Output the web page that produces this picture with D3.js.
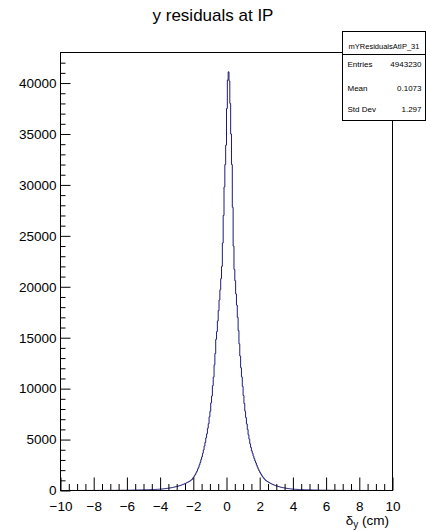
<!DOCTYPE html>
<html>
<head>
<meta charset="utf-8">
<script src="https://cdn.jsdelivr.net/npm/d3@7"></script>
<style>
  html, body { margin: 0; padding: 0; background: #fff; }
  svg { display: block; font-family: "Liberation Sans", Arial, Helvetica, sans-serif; }
</style>
</head>
<body>
<svg id="chart" width="426" height="531"></svg>
<script>
// ---------------- data ----------------
const chartTitle = "y residuals at IP";
const xDomain = [-10, 10];
const yDomain = [0, 43000];
// bin contents, 400 bins of equal width (0.05) across xDomain
const countsLeftTail = [ // -10.0 .. -4.1
  1,1, 1,1, 1,2, 2,1, 1,2, 2,2, 2,2, 2,3, 3,3,
  2,3, 3,3, 3,3, 3,4, 4,4, 4,4, 4,5, 5,4, 4,5, 5,6,
  6,6, 6,7, 7,7, 7,8, 8,8, 9,9, 9,10, 10,10, 11,11, 12,12,
  13,13, 14,14, 15,15, 16,17, 17,18, 19,20, 20,21, 22,23, 24,25, 26,27,
  27,28, 29,30, 31,33, 34,36, 37,39, 40,42, 44,46, 48,50, 52,54, 56,58,
  59,62, 64,67, 69,72, 75,78, 81,84, 87,90, 93,97, 100,104, 107,111, 115,119
];
const countsLeftCore = [ // -4.1 .. 0.0
  122,128, 134,141, 149,157, 166,176, 186,196, 207,219, 231,245, 259,273, 288,305, 321,341,
  358,380, 400,424, 446,472, 497,527, 555,588, 618,656, 690,731, 769,816, 858,909, 955,1030,
  1080,1200, 1300,1440, 1570,1740, 1890,2100, 2280,2530, 2750,3040, 3300,3650, 3980,4370, 4720,5170, 5570,6110,
  6560,7230, 7770,8600, 9280,10290, 11130,12340, 13450,14840, 15600,16640, 17660,18700, 19700,20800, 22000,24300, 27000,29800,
  32000,33900
];
const countsRightCore = [ // 0.0 .. 4.1
  37500,40300, 41100,40200, 38000,35000, 32000,27800, 24000,21700, 20600,19300,
  18200,17000, 15700,14400, 13200,12050, 11150,10220, 9330,8540, 7790,7160, 6530,6000, 5470,5040, 4580,4230, 3900,3660, 3380,3140, 2910,2710,
  2490,2290, 2090,1930, 1770,1630, 1490,1370, 1250,1160, 1060,990, 930,880, 825,775, 728,686, 643,607,
  568,536, 502,474, 444,418, 392,370, 347,327, 306,290, 271,257, 240,228, 213,201, 188,178,
  166,158, 147,139, 130,124
];
const countsRightTail = [ // 4.1 .. 10.0
  119,115, 110,106, 102,98, 94,90, 87,83, 81,77, 75,71, 69,65, 64,60, 59,55,
  54,52, 50,48, 46,44, 43,41, 39,37, 37,35, 34,32, 31,29, 29,27, 27,25,
  25,23, 23,21, 22,20, 20,18, 19,17, 17,15, 16,14, 15,13, 14,12, 13,11,
  12,10, 11,9, 10,9, 9,8, 8,8, 8,7, 7,6, 7,6, 6,5, 6,5,
  5,5, 5,4, 5,4, 4,4, 4,3, 3,4, 3,3, 3,2, 3,2, 2,2,
  2,2, 2,3, 2,2, 2,1, 2,2, 1,1, 1,2, 1,1, 1,0
];
const xMajorTicks = [-10, -8, -6, -4, -2, 0, 2, 4, 6, 8, 10];
const xMinorTicks = [-9.5,-9,-8.5,-7.5,-7,-6.5,-5.5,-5,-4.5,-3.5,-3,-2.5,-1.5,-1,-0.5,0.5,1,1.5,2.5,3,3.5,4.5,5,5.5,6.5,7,7.5,8.5,9,9.5];
const yMajorTicks = [0, 5000, 10000, 15000, 20000, 25000, 30000, 35000, 40000];
const yMinorTicks = [1000,2000,3000,4000,6000,7000,8000,9000,11000,12000,13000,14000,16000,17000,18000,19000,21000,22000,23000,24000,26000,27000,28000,29000,31000,32000,33000,34000,36000,37000,38000,39000,41000,42000];
const statsName = "mYResidualsAtIP_31";
const statsLabels = ["Entries", "Mean", "Std Dev"];
const statsValues = ["4943230", "0.1073", "1.297"];
const xAxisTitle = ["δ", "y", " (cm)"];

const counts = countsLeftTail.concat(countsLeftCore, countsRightCore, countsRightTail);

// ---------------- layout ----------------
const svg = d3.select("#chart");
const X0 = 60.5, X1 = 392.5, Y0 = 52.5, Y1 = 490.5;
const x = d3.scaleLinear().domain(xDomain).range([X0, X1]);
const y = d3.scaleLinear().domain(yDomain).range([Y1, Y0]);

// title
svg.append("text")
  .attr("x", 213).attr("y", 21)
  .attr("text-anchor", "middle")
  .attr("font-size", 17)
  .attr("fill", "#000")
  .text(chartTitle);

// histogram
const nb = counts.length;
const bw = (xDomain[1] - xDomain[0]) / nb;
const pts = counts.map((c, i) => [xDomain[0] + i * bw, c]);
pts.push([xDomain[1], counts[nb - 1]]);
const line = d3.line()
  .x(d => x(d[0]))
  .y(d => y(d[1]))
  .curve(d3.curveStepAfter);
svg.append("path")
  .datum(pts)
  .attr("d", line)
  .attr("fill", "none")
  .attr("stroke", "#1d1d78")
  .attr("stroke-width", 1);

// axes
const fontSize = 13.5;
const gx = svg.append("g").attr("transform", `translate(0,${Y1})`)
  .call(d3.axisBottom(x).tickValues(xMajorTicks).tickSize(-13).tickPadding(11)
    .tickFormat(d => d3.format("d")(d).replace("-", "\u2212")));
gx.select(".domain").remove();
gx.selectAll("text").attr("font-size", fontSize).attr("font-family", null).attr("fill", "#000");
gx.selectAll("line").attr("stroke", "#000");

const gxm = svg.append("g").attr("transform", `translate(0,${Y1})`)
  .call(d3.axisBottom(x).tickValues(xMinorTicks).tickSize(-6.5).tickFormat(""));
gxm.select(".domain").remove();
gxm.selectAll("line").attr("stroke", "#000");

const gy = svg.append("g").attr("transform", `translate(${X0},0)`)
  .call(d3.axisLeft(y).tickValues(yMajorTicks).tickSize(-10).tickPadding(4)
    .tickFormat(d3.format("d")));
gy.select(".domain").remove();
gy.selectAll("text").attr("font-size", fontSize).attr("font-family", null).attr("fill", "#000");
gy.selectAll("line").attr("stroke", "#000");

const gym = svg.append("g").attr("transform", `translate(${X0},0)`)
  .call(d3.axisLeft(y).tickValues(yMinorTicks).tickSize(-5).tickFormat(""));
gym.select(".domain").remove();
gym.selectAll("line").attr("stroke", "#000");

// frame
svg.append("rect")
  .attr("x", X0).attr("y", Y0)
  .attr("width", X1 - X0).attr("height", Y1 - Y0)
  .attr("fill", "none").attr("stroke", "#000").attr("stroke-width", 1);

// x axis title
const t = svg.append("text")
  .attr("x", 389).attr("y", 525)
  .attr("text-anchor", "end")
  .attr("font-size", fontSize)
  .attr("fill", "#000");
t.append("tspan").text(xAxisTitle[0]);
t.append("tspan").attr("font-size", 10).attr("dy", 3).text(xAxisTitle[1]);
t.append("tspan").attr("dy", -3).text(xAxisTitle[2]);

// stats box
const bx0 = 342.5, bx1 = 425.5, by0 = 31.5, by1 = 120.5;
svg.append("rect")
  .attr("x", bx0).attr("y", by0).attr("width", bx1 - bx0).attr("height", by1 - by0)
  .attr("fill", "#fff").attr("stroke", "#000").attr("stroke-width", 1);
svg.append("line")
  .attr("x1", bx0).attr("x2", bx1).attr("y1", 54.5).attr("y2", 54.5)
  .attr("stroke", "#000").attr("stroke-width", 1);
svg.append("text")
  .attr("x", (bx0 + bx1) / 2).attr("y", 48.5)
  .attr("text-anchor", "middle").attr("font-size", 7.5).attr("fill", "#000")
  .text(statsName);
const rowY = [67, 90.5, 112];
statsLabels.forEach((lab, i) => {
  svg.append("text").attr("x", 347.5).attr("y", rowY[i])
    .attr("font-size", 8).attr("fill", "#000").text(lab);
  svg.append("text").attr("x", 421.5).attr("y", rowY[i])
    .attr("text-anchor", "end").attr("font-size", 8).attr("fill", "#000").text(statsValues[i]);
});
</script>
</body>
</html>
